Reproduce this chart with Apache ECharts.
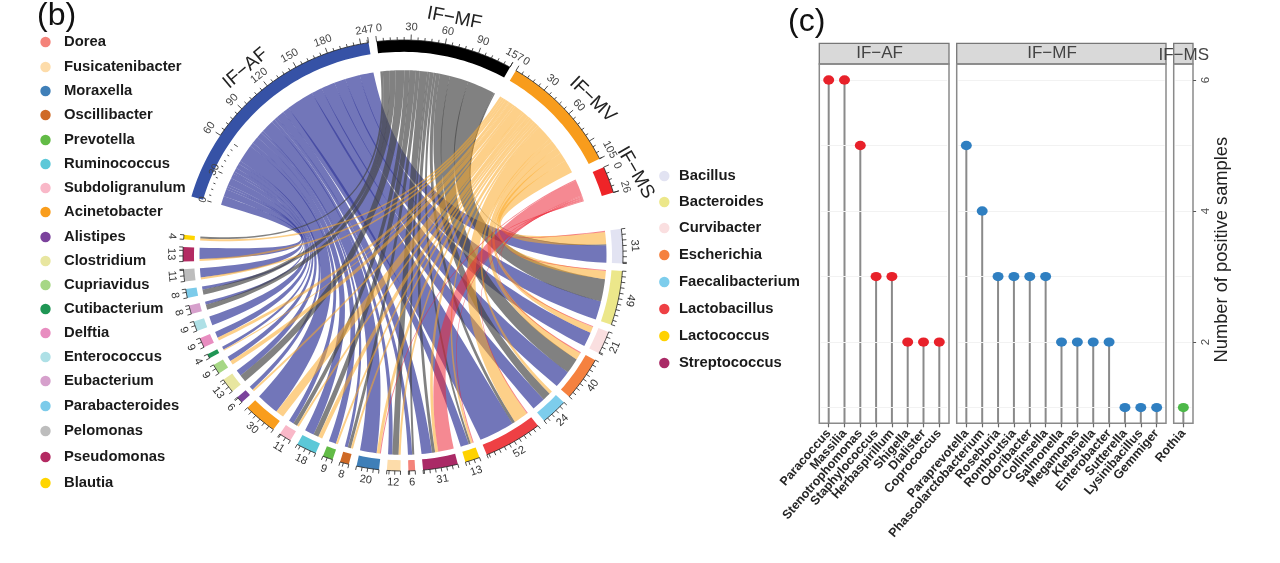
<!DOCTYPE html>
<html><head><meta charset="utf-8">
<style>html,body{margin:0;padding:0;background:#fff}#c{width:1280px;height:563px}</style>
<script src="https://cdn.jsdelivr.net/npm/echarts@6/dist/echarts.min.js"></script>
</head><body><div id="c"></div>
<script>
// ---------- DATA ----------
const genera = ['Bacillus','Bacteroides','Curvibacter','Escherichia','Faecalibacterium','Lactobacillus','Lactococcus','Streptococcus','Dorea','Fusicatenibacter','Moraxella','Oscillibacter','Prevotella','Ruminococcus','Subdoligranulum','Acinetobacter','Alistipes','Clostridium','Cupriavidus','Cutibacterium','Delftia','Enterococcus','Eubacterium','Parabacteroides','Pelomonas','Pseudomonas','Blautia'];
const genusTotals = [31,49,21,40,24,52,13,31,6,12,20,8,9,18,11,30,6,13,9,4,9,9,8,8,11,13,4];
const linksAF = [17,18,14,17,13,34,8,10,4,4,16,3,7,9,5,22,4,6,5,3,6,9,3,3,9,11,0];
const linksMF = [1,22,0,15,8,3,2,3,2,6,0,3,0,5,4,0,0,7,0,0,0,0,5,5,0,0,2];
const linksMV = [12,8,6,7,3,14,2,3,0,2,3,2,2,4,2,8,2,0,4,1,3,0,0,0,2,2,2];
const linksMS = [1,1,1,1,0,1,1,15,0,0,1,0,0,0,0,0,0,0,0,0,0,0,0,0,0,0,0];
const sourceNames = ['IF\u2212AF','IF\u2212MF','IF\u2212MV','IF\u2212MS'];
const sourceLengths = [217,120,108,24];
const outerLabelsAF = [[60,'60'],[90,'90'],[120,'120'],[150,'150'],[180,'180'],[217,'247']];
const innerLabelsAF = [[0,'0'],[30,'30']];
const labelsMF = [[0,'0'],[30,'30'],[60,'60'],[90,'90'],[120,'157']];
const labelsMV = [[0,'0'],[30,'30'],[60,'60'],[105,'105']];
const labelsMS = [[0,'0'],[24,'26']];

const catAF = ['Paracoccus','Massilia','Stenotrophomonas','Staphylococcus','Herbaspirillum','Shigella','Dialister','Coprococcus'];
const valAF = [6,6,5,3,3,2,2,2];
const catMF = ['Paraprevotella','Phascolarctobacterium','Roseburia','Romboutsia','Odoribacter','Collinsella','Salmonella','Megamonas','Klebsiella','Enterobacter','Sutterella','Lysinibacillus','Gemmiger'];
const valMF = [5,4,3,3,3,3,2,2,2,2,1,1,1];
const catMS = ['Rothia'];
const valMS = [1];

const legendLeft = ['Dorea','Fusicatenibacter','Moraxella','Oscillibacter','Prevotella','Ruminococcus','Subdoligranulum','Acinetobacter','Alistipes','Clostridium','Cupriavidus','Cutibacterium','Delftia','Enterococcus','Eubacterium','Parabacteroides','Pelomonas','Pseudomonas','Blautia'];
const legendRight = ['Bacillus','Bacteroides','Curvibacter','Escherichia','Faecalibacterium','Lactobacillus','Lactococcus','Streptococcus'];

// ---------- STYLE / LAYOUT ----------
const genusColor = {Dorea:'#f4837a',Fusicatenibacter:'#fddcaa',Moraxella:'#3f7fb8',Oscillibacter:'#cf6a26',Prevotella:'#62bb46',Ruminococcus:'#5cc8d8',Subdoligranulum:'#f9b8c8',Acinetobacter:'#f99d1c',Alistipes:'#7b429c',Clostridium:'#e8e6a0',Cupriavidus:'#a6d785',Cutibacterium:'#1f9654',Delftia:'#e88dc0',Enterococcus:'#aee0e6',Eubacterium:'#d6a0cc',Parabacteroides:'#7ccbea',Pelomonas:'#bdbdbd',Pseudomonas:'#b32a62',Blautia:'#ffd500',Bacillus:'#e2e3f2',Bacteroides:'#ece78a',Curvibacter:'#fadfe0',Escherichia:'#f5813f',Faecalibacterium:'#7dcdec',Lactobacillus:'#ee4044',Lactococcus:'#ffd200',Streptococcus:'#aa2a66'};
const sourceColor = ['#3652a6','#000000','#f89c1c','#ee2428'];
const ribbonColor = ['rgba(54,60,155,0.70)','rgba(70,70,70,0.68)','rgba(251,170,40,0.55)','rgba(236,40,56,0.55)'];
const sourceStart = [-74.1,-6.9,30.9,65.8];
const titleAngle = [-39.5,12,50,70], titleRot = [-40,11,44,60];
const unitDeg = 0.3;
const genusStart = 82.9, genusUnit = 0.297, gapDeg = 2.05;
const leftY = [42,67,91,115,140,164,188,212,237,261,285,309,333,357,381,406,431,457,483];
const rightY = [176,202,228,255,282,309,336,363];
const FONT = '"Liberation Sans",Arial,sans-serif';

const linkTable = [linksAF,linksMF,linksMV,linksMS];
const genusRange = []; { let a = genusStart; genusTotals.forEach(t=>{ genusRange.push([a,a+t*genusUnit]); a += t*genusUnit+gapDeg; }); }
const sourceRange = sourceLengths.map((l,i)=>[sourceStart[i],sourceStart[i]+l*unitDeg]);
const sourceSum = linkTable.map(a=>a.reduce((p,c)=>p+c,0));
const ribbons = [];
{
  const genusCursor = genusRange.map(r=>r[0]);
  const srcCursor = sourceRange.map(r=>r[0]);
  const byS = [[],[],[],[]];
  for (let g=0;g<genera.length;g++){
    const used = [3,2,1,0].reduce((p,s)=>p+linkTable[s][g],0);
    const k = genusTotals[g]/used;
    for (const s of [3,2,1,0]){
      const v = linkTable[s][g]; if(!v) continue;
      const t0 = genusCursor[g], t1 = t0+v*k*genusUnit; genusCursor[g]=t1;
      byS[s].push({s,g,v,t0,t1});
    }
  }
  for (let s=0;s<4;s++){
    const k = sourceLengths[s]/sourceSum[s];
    byS[s].sort((a,b)=>b.g-a.g).forEach(r=>{
      r.a0 = srcCursor[s]; r.a1 = r.a0+r.v*k*unitDeg; srcCursor[s]=r.a1; ribbons.push(r);
    });
  }
}
const rad = d=>d*Math.PI/180;
const pol = (deg,r)=>[r*Math.sin(rad(deg)), r*Math.cos(rad(deg))];
function arcPts(d0,d1,r,n){ const out=[]; n=n||Math.max(3,Math.ceil(Math.abs(d1-d0)/1.2)); for(let i=0;i<=n;i++) out.push(pol(d0+(d1-d0)*i/n,r)); return out; }
// edge of a ribbon: the common control sits near the centre, and each edge is pushed by its offset from the ribbon's mid-line
const BETA=0.03, GAMMA=0.25;
function bez(p0,p2,m0,m2,n){
  const c=[0,1].map(j=>BETA*(m0[j]+m2[j])+GAMMA*((p0[j]-m0[j])+(p2[j]-m2[j]))), out=[];
  for(let i=1;i<n;i++){const t=i/n,u=1-t; out.push([u*u*p0[0]+2*u*t*c[0]+t*t*p2[0], u*u*p0[1]+2*u*t*c[1]+t*t*p2[1]]);}
  return out;
}
const R_SRC=0.86, R_TGT=0.925;

function textEl(api,deg,r,txt,size,rot,color){
  const p=api.coord(pol(deg,r));
  return {type:'text',x:p[0],y:p[1],rotation:-rad(rot),silent:true,
    style:{text:txt,fontSize:size,fontFamily:FONT,fill:color||'#333',textAlign:'center',textVerticalAlign:'middle'}};
}
function lineEl(api,a,b,w,c){ const p=api.coord(a),q=api.coord(b); return {type:'line',silent:true,shape:{x1:p[0],y1:p[1],x2:q[0],y2:q[1]},style:{stroke:c||'#222',lineWidth:w||0.8}}; }
function labelRot(deg){ const d=(deg+360)%360; return (d>105&&d<285)? d-180 : (d>=285? d-360 : d); }

const ribbonSeries = {
  type:'custom',coordinateSystem:'cartesian2d',xAxisIndex:0,yAxisIndex:0,clip:false,silent:true,z:2,
  encode:{x:0,y:1},
  data:ribbons.map(r=>[0,0,r.s,r.g,r.v]),
  renderItem(params,api){
    const r=ribbons[params.dataIndex];
    const A=arcPts(r.a0,r.a1,R_SRC), T=arcPts(r.t0,r.t1,R_TGT);
    const m0=pol((r.a0+r.a1)/2,R_SRC), m2=pol((r.t0+r.t1)/2,R_TGT);
    const pts=[...A,...bez(A[A.length-1],T[0],m0,m2,40),...T,...bez(T[T.length-1],A[0],m2,m0,40)].map(p=>api.coord(p));
    return {type:'polygon',silent:true,shape:{points:pts},style:{fill:ribbonColor[r.s]}};
  }
};
const genusSeries = {
  type:'custom',coordinateSystem:'cartesian2d',xAxisIndex:0,yAxisIndex:0,clip:false,silent:true,z:3,
  encode:{x:0,y:1},
  data:genusTotals.map((t,i)=>[0,0,i,t]),
  renderItem(params,api){
    const i=params.dataIndex, [a0,a1]=genusRange[i], t=genusTotals[i];
    const poly=[...arcPts(a0,a1,1),...arcPts(a1,a0,0.95)].map(p=>api.coord(p));
    const kids=[{type:'polygon',silent:true,shape:{points:poly},style:{fill:genusColor[genera[i]]}}];
    kids.push({type:'polyline',silent:true,shape:{points:arcPts(a0,a1,1).map(p=>api.coord(p))},style:{stroke:'#222',lineWidth:0.8,fill:'none'}});
    const vals=[]; for(let v=0;v<t;v+=5) vals.push(v); vals.push(t);
    vals.forEach(v=>{const d=a0+v*genusUnit; kids.push(lineEl(api,pol(d,1),pol(d,1.018)));});
    const m=(a0+a1)/2; kids.push(textEl(api,m,1.054,String(t),11,labelRot(m)));
    return {type:'group',children:kids};
  }
};
const srcLabels=[outerLabelsAF,labelsMF,labelsMV,labelsMS];
const sourceSeries = {
  type:'custom',coordinateSystem:'cartesian2d',xAxisIndex:0,yAxisIndex:0,clip:false,silent:true,z:4,
  encode:{x:0,y:1},
  data:sourceLengths.map((t,i)=>[0,0,i,t]),
  renderItem(params,api){
    const i=params.dataIndex,[a0,a1]=sourceRange[i],t=sourceLengths[i];
    const poly=[...arcPts(a0,a1,1),...arcPts(a1,a0,0.945)].map(p=>api.coord(p));
    const kids=[{type:'polygon',silent:true,shape:{points:poly},style:{fill:sourceColor[i]}}];
    const startV = i===0?60:0;
    kids.push({type:'polyline',silent:true,shape:{points:arcPts(a0+startV*unitDeg,a1,1).map(p=>api.coord(p))},style:{stroke:'#222',lineWidth:0.8,fill:'none'}});
    const step=6, major=i===3?24:30;
    for(let v=startV;v<=t;v+=step){const d=a0+v*unitDeg; const big=v%major===0; kids.push(lineEl(api,pol(d,1),pol(d,big?1.026:1.014)));}
    kids.push(lineEl(api,pol(a1,1),pol(a1,1.026)));
    srcLabels[i].forEach(([v,txt])=>{
      let d=a0+v*unitDeg; if(v===0) d+=1.0; else if(v===t) d-=0.5;
      kids.push(textEl(api,d,1.06,txt,11,labelRot(d),'#444'));
    });
    if(i===0){
      for(let v=0;v<=60;v+=6){const d=a0+v*unitDeg; kids.push(lineEl(api,pol(d,0.925),pol(d,v%30===0?0.905:0.915)));}
      innerLabelsAF.forEach(([v,txt])=>{const d=a0+v*unitDeg; kids.push(textEl(api,d,0.945,txt,10.5,labelRot(d),'#444'));});
    }
    kids.push(textEl(api,titleAngle[i],1.125,sourceNames[i],19,titleRot[i],'#222'));
    return {type:'group',children:kids};
  }
};

// ---------- PANEL (c) ----------
const YMIN=0.76,YMAX=6.244,panelTop=64,panelH=359.3;
const panels=[
 {cat:catAF,val:valAF,left:820.8,width:126.4,color:'#e8212a',box:[819.3,949],title:'IF\u2212AF',tx:879.6,ty:53.5},
 {cat:catMF,val:valMF,left:958.4,width:206.2,color:'#2f7fc1',box:[956.7,1166],title:'IF\u2212MF',tx:1052,ty:53.5},
 {cat:catMS,val:valMS,left:1175.4,width:15.9,color:'#4cb848',box:[1173.7,1193],title:'IF\u2212MS',tx:1183.7,ty:55}
];
const grids=[{left:183,top:40,width:440,height:431,show:false}];
const xAxes=[{gridIndex:0,type:'value',min:-1,max:1,show:false}];
const yAxes=[{gridIndex:0,type:'value',min:-1,max:1,show:false}];
const series=[ribbonSeries,genusSeries,sourceSeries];
panels.forEach((p,i)=>{
  const g=i+1;
  grids.push({left:p.left,top:panelTop,width:p.width,height:panelH,show:false});
  xAxes.push({gridIndex:g,type:'category',data:p.cat,boundaryGap:true,
    axisLine:{show:false},axisTick:{show:true,alignWithLabel:true,length:4,lineStyle:{color:'#666',width:1.2}},
    axisLabel:{interval:0,rotate:49,margin:8,fontSize:12.5,fontWeight:'bold',fontFamily:FONT,color:'#262626'}});
  const y={gridIndex:g,type:'value',min:YMIN,max:YMAX,splitLine:{show:false},axisLine:{show:false},axisTick:{show:false},axisLabel:{show:false}};
  if(i===2){
    Object.assign(y,{position:'right',offset:1.8,
      axisTick:{show:true,length:3,customValues:[2,4,6],lineStyle:{color:'#555',width:1}},
      axisLabel:{show:true,customValues:[2,4,6],rotate:90,margin:7,fontSize:11.5,fontFamily:FONT,color:'#4d4d4d',showMinLabel:true,showMaxLabel:true},
      name:'Number of positive samples',nameLocation:'middle',nameRotate:90,nameGap:19,
      nameTextStyle:{fontSize:18.3,fontFamily:FONT,color:'#222',padding:[0,12,0,0]}});
  }
  yAxes.push(y);
  series.push({type:'bar',xAxisIndex:g,yAxisIndex:g,data:p.val,barWidth:2,itemStyle:{color:'#8a8a8a'},silent:true,z:3,
    markLine:{silent:true,symbol:'none',label:{show:false},animation:false,
      lineStyle:{color:'#f2f2f2',width:1,type:'solid'},data:[1,2,3,4,5,6].map(v=>({yAxis:v}))}});
  series.push({type:'scatter',xAxisIndex:g,yAxisIndex:g,data:p.val.map((v,k)=>[k,v]),symbol:'circle',symbolSize:[11,9.3],itemStyle:{color:p.color,opacity:1},silent:true,z:5});
});

// ---------- GRAPHIC ----------
const graphic=[];
const T=(x,y,text,size,weight,color,align)=>({type:'text',x,y,silent:true,style:{text,fontSize:size,fontWeight:weight||'normal',fontFamily:FONT,fill:color||'#111',textAlign:align||'left',textVerticalAlign:'middle'}});
legendLeft.forEach((n,i)=>{
  graphic.push({type:'circle',silent:true,shape:{cx:45.5,cy:leftY[i],r:5.2},style:{fill:genusColor[n]}});
  graphic.push(T(64,leftY[i],n,14.8,'bold','#1a1a1a'));
});
legendRight.forEach((n,i)=>{
  graphic.push({type:'circle',silent:true,shape:{cx:664.3,cy:rightY[i],r:5.2},style:{fill:genusColor[n]}});
  graphic.push(T(679,rightY[i],n,14.8,'bold','#1a1a1a'));
});
graphic.push(T(37,16,'(b)',32,'normal','#111'));
graphic.push(T(788,22,'(c)',32,'normal','#111'));
panels.forEach(p=>{
  graphic.push({type:'rect',silent:true,shape:{x:p.box[0],y:43.3,width:p.box[1]-p.box[0],height:20.7},style:{fill:'#d9d9d9',stroke:'#777',lineWidth:1.3}});
  graphic.push({type:'rect',silent:true,shape:{x:p.box[0],y:64,width:p.box[1]-p.box[0],height:359.3},style:{fill:'none',stroke:'#8a8a8a',lineWidth:1.5}});
  graphic.push(T(p.tx,p.ty,p.title,17,'normal','#444','center'));
});

const chart=echarts.init(document.getElementById('c'),null,{renderer:'canvas'});
chart.setOption({animation:false,backgroundColor:'#fff',grid:grids,xAxis:xAxes,yAxis:yAxes,series,graphic:{elements:graphic}});
</script></body></html>
